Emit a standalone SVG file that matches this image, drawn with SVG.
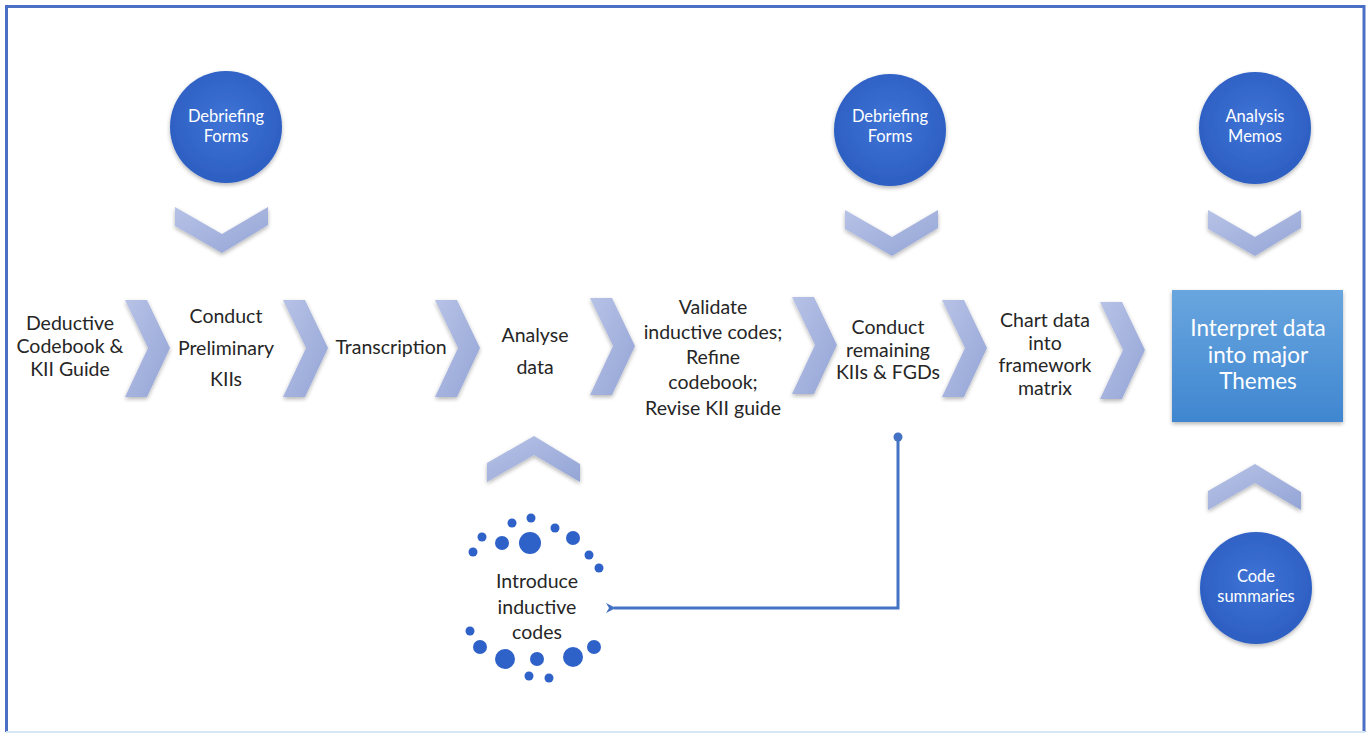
<svg xmlns="http://www.w3.org/2000/svg" width="1372" height="734" viewBox="0 0 1372 734">
<defs>
<linearGradient id="chevG" x1="0" y1="0" x2="1" y2="1">
<stop offset="0" stop-color="#b7c2e6"/>
<stop offset="1" stop-color="#94a5d6"/>
</linearGradient>
<radialGradient id="circG" cx="0.5" cy="0.45" r="0.6">
<stop offset="0" stop-color="#3f74d6"/>
<stop offset="1" stop-color="#2b5cc0"/>
</radialGradient>
<linearGradient id="boxG" x1="0" y1="0" x2="0" y2="1">
<stop offset="0" stop-color="#69a6df"/>
<stop offset="1" stop-color="#3f86d0"/>
</linearGradient>
<filter id="sh" x="-20%" y="-20%" width="140%" height="140%">
<feGaussianBlur in="SourceAlpha" stdDeviation="2"/>
<feOffset dx="0" dy="2" result="b"/>
<feComponentTransfer><feFuncA type="linear" slope="0.3"/></feComponentTransfer>
<feMerge><feMergeNode/><feMergeNode in="SourceGraphic"/></feMerge>
</filter>
<path id="chevR" d="M0,0 L22,0 L45,48 L22,97 L0,97 L23,48 Z"/>
<path id="chevD" d="M0,0 L47,27 L93,0 L93,18 L47,46 L0,19 Z"/>
<path id="chevU" d="M0,46 L47,19 L93,46 L93,28 L47,0 L0,27 Z"/>
<marker id="arr" markerWidth="10" markerHeight="10" refX="2" refY="5" orient="auto" markerUnits="userSpaceOnUse">
<path d="M10,0 L0,5 L10,10 L7,5 Z" fill="#4472c4"/>
</marker>
</defs>
<style>
.t{font-family:Lato,"Liberation Sans",sans-serif;font-size:19.5px;fill:#262626;text-anchor:middle}
.w{font-family:Lato,"Liberation Sans",sans-serif;font-size:16.5px;fill:#ffffff;text-anchor:middle}
.bw{font-family:Lato,"Liberation Sans",sans-serif;font-size:22.5px;fill:#ffffff;text-anchor:middle}
.chev{fill:url(#chevG);filter:url(#sh)}
.circ{fill:url(#circG);filter:url(#sh)}
.dot{fill:#2f62c8}
.conn{fill:none;stroke:#4472c4;stroke-width:3}
</style>
<rect x="0" y="0" width="1372" height="734" fill="#ffffff"/>
<path d="M6.5,732 L6.5,6.5 L1364,6.5 L1364,732" fill="none" stroke="#4a6fc4" stroke-width="3"/>
<line x1="6" y1="732" x2="1365" y2="732" stroke="#d6e6f5" stroke-width="2"/>

<g id="chevrons">
<use href="#chevR" x="125" y="300" class="chev"/>
<use href="#chevR" x="283" y="300" class="chev"/>
<use href="#chevR" x="435" y="300" class="chev"/>
<use href="#chevR" x="590" y="298" class="chev"/>
<use href="#chevR" x="792" y="297" class="chev"/>
<use href="#chevR" x="942" y="300" class="chev"/>
<use href="#chevR" x="1100" y="302" class="chev"/>
<use href="#chevD" x="175" y="207" class="chev"/>
<use href="#chevD" x="845" y="210" class="chev"/>
<use href="#chevD" x="1208" y="210" class="chev"/>
<use href="#chevU" x="487" y="436" class="chev"/>
<use href="#chevU" x="1208" y="464" class="chev"/>
</g>

<g id="debrief1">
<circle cx="226" cy="127" r="56" class="circ"/>
<text class="w"><tspan x="226" y="122">Debriefing</tspan><tspan x="226" y="142">Forms</tspan></text>
</g>
<g id="debrief2">
<circle cx="890" cy="130" r="56" class="circ"/>
<text class="w"><tspan x="890" y="122">Debriefing</tspan><tspan x="890" y="142">Forms</tspan></text>
</g>
<g id="memos">
<circle cx="1255" cy="128" r="56" class="circ"/>
<text class="w"><tspan x="1255" y="122">Analysis</tspan><tspan x="1255" y="142">Memos</tspan></text>
</g>
<g id="summaries">
<circle cx="1256" cy="588" r="56" class="circ"/>
<text class="w"><tspan x="1256" y="582">Code</tspan><tspan x="1256" y="602">summaries</tspan></text>
</g>

<g id="deductive">
<text class="t"><tspan x="70" y="330">Deductive</tspan><tspan x="70" y="353">Codebook &amp;</tspan><tspan x="70" y="376">KII Guide</tspan></text>
</g>
<g id="preliminary">
<text class="t"><tspan x="226" y="323">Conduct</tspan><tspan x="226" y="355">Preliminary</tspan><tspan x="226" y="386">KIIs</tspan></text>
</g>
<g id="transcription">
<text class="t" x="391" y="354">Transcription</text>
</g>
<g id="analyse">
<text class="t"><tspan x="535" y="342">Analyse</tspan><tspan x="535" y="374">data</tspan></text>
</g>
<g id="validate">
<text class="t"><tspan x="713" y="314">Validate</tspan><tspan x="713" y="339">inductive codes;</tspan><tspan x="713" y="364">Refine</tspan><tspan x="713" y="389">codebook;</tspan><tspan x="713" y="415">Revise KII guide</tspan></text>
</g>
<g id="remaining">
<text class="t"><tspan x="888" y="334">Conduct</tspan><tspan x="888" y="357">remaining</tspan><tspan x="888" y="379">KIIs &amp; FGDs</tspan></text>
</g>
<g id="chart">
<text class="t"><tspan x="1045" y="327">Chart data</tspan><tspan x="1045" y="350">into</tspan><tspan x="1045" y="372">framework</tspan><tspan x="1045" y="395">matrix</tspan></text>
</g>
<g id="interpret">
<rect x="1172" y="290" width="171" height="132" fill="url(#boxG)" filter="url(#sh)"/>
<text class="bw"><tspan x="1258" y="336">Interpret data</tspan><tspan x="1258" y="363">into major</tspan><tspan x="1258" y="389">Themes</tspan></text>
</g>

<g id="introduce">
<circle cx="473" cy="552" r="4.5" class="dot"/>
<circle cx="482" cy="537" r="4.5" class="dot"/>
<circle cx="502" cy="543" r="7" class="dot"/>
<circle cx="512" cy="523" r="4.5" class="dot"/>
<circle cx="531" cy="518" r="4.5" class="dot"/>
<circle cx="530" cy="543" r="11" class="dot"/>
<circle cx="555" cy="528" r="4.5" class="dot"/>
<circle cx="573" cy="538" r="7" class="dot"/>
<circle cx="589" cy="555" r="4.5" class="dot"/>
<circle cx="599" cy="568" r="4.5" class="dot"/>
<circle cx="470" cy="631" r="4.5" class="dot"/>
<circle cx="480" cy="647" r="7" class="dot"/>
<circle cx="505" cy="659" r="10" class="dot"/>
<circle cx="529" cy="676" r="4.5" class="dot"/>
<circle cx="537" cy="659" r="7" class="dot"/>
<circle cx="549" cy="678" r="4.5" class="dot"/>
<circle cx="573" cy="657" r="10" class="dot"/>
<circle cx="594" cy="647" r="7" class="dot"/>
<text class="t"><tspan x="537" y="588">Introduce</tspan><tspan x="537" y="614">inductive</tspan><tspan x="537" y="639">codes</tspan></text>
</g>

<g id="connectors">
<circle cx="898" cy="437" r="4.5" fill="#4472c4"/>
<path d="M898,437 L898,608 L614,608" class="conn" marker-end="url(#arr)"/>
</g>
</svg>
